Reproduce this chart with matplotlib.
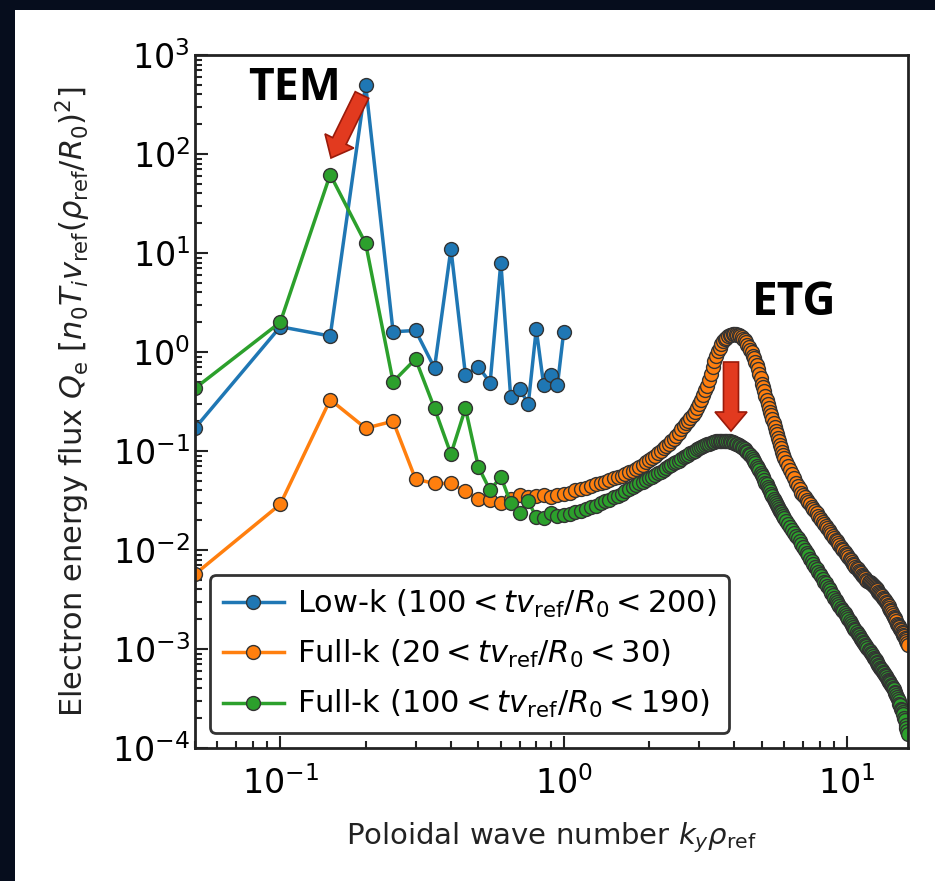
import numpy as np
import matplotlib.pyplot as plt
from matplotlib.patches import FancyArrow, Rectangle


# ---- low-k run (100 < t v_ref/R0 < 200) ----
ky_low = [0.05, 0.1, 0.15, 0.2, 0.25, 0.3, 0.35, 0.4, 0.45, 0.5,
          0.55, 0.6, 0.65, 0.7, 0.75, 0.8, 0.85, 0.9, 0.95, 1.0]
Q_low = [0.17, 1.8, 1.45, 500.0, 1.6, 1.65, 0.69, 11.0, 0.59, 0.71,
         0.49, 8.0, 0.35, 0.42, 0.30, 1.7, 0.46, 0.59, 0.46, 1.6]

# ---- full-k runs, both on the same ky grid ----
ky_full_a = [0.05, 0.1, 0.15, 0.2, 0.25, 0.3, 0.35, 0.4, 0.45, 0.5,
             0.55, 0.6, 0.65, 0.7, 0.75, 0.8, 0.85, 0.9, 0.95, 1.0]
ky_full_b = [1.05, 1.1, 1.15, 1.2, 1.25, 1.3, 1.35, 1.4, 1.45, 1.5,
             1.55, 1.6, 1.65, 1.7, 1.75, 1.8, 1.85, 1.9, 1.95, 2.0,
             2.05, 2.1, 2.15, 2.2, 2.25, 2.3, 2.35, 2.4, 2.45, 2.5,
             2.55, 2.6, 2.65, 2.7, 2.75, 2.8, 2.85, 2.9, 2.95, 3.0,
             3.05, 3.1, 3.15, 3.2, 3.25, 3.3, 3.35, 3.4, 3.45, 3.5,
             3.55, 3.6, 3.65, 3.7, 3.75, 3.8, 3.85, 3.9, 3.95, 4.0,
             4.05, 4.1, 4.15, 4.2, 4.25, 4.3, 4.35, 4.4, 4.45, 4.5,
             4.55, 4.6, 4.65, 4.7, 4.75, 4.8, 4.85, 4.9, 4.95, 5.0,
             5.05, 5.1, 5.15, 5.2, 5.25, 5.3, 5.35, 5.4, 5.45, 5.5,
             5.55, 5.6, 5.65, 5.7, 5.75, 5.8, 5.85, 5.9, 5.95, 6.0]
ky_full_c = [6.1, 6.2, 6.3, 6.4, 6.5, 6.6, 6.7, 6.8, 6.9, 7.0,
             7.1, 7.2, 7.3, 7.4, 7.5, 7.6, 7.7, 7.8, 7.9, 8.0,
             8.1, 8.2, 8.3, 8.4, 8.5, 8.6, 8.7, 8.8, 8.9, 9.0,
             9.1, 9.2, 9.3, 9.4, 9.5, 9.6, 9.7, 9.8, 9.9, 10.0,
             10.1, 10.2, 10.3, 10.4, 10.5, 10.6, 10.7, 10.8, 10.9, 11.0,
             11.1, 11.2, 11.3, 11.4, 11.5, 11.6, 11.7, 11.8, 11.9, 12.0,
             12.1, 12.2, 12.3, 12.4, 12.5, 12.6, 12.7, 12.8, 12.9, 13.0,
             13.1, 13.2, 13.3, 13.4, 13.5, 13.6, 13.7, 13.8, 13.9, 14.0,
             14.1, 14.2, 14.3, 14.4, 14.5, 14.6, 14.7, 14.8, 14.9, 15.0,
             15.1, 15.2, 15.3, 15.4, 15.5, 15.6, 15.7, 15.8, 15.9, 16.0,
             16.1, 16.2, 16.3, 16.4]
ky_full = ky_full_a + ky_full_b + ky_full_c

# full-k, 20 < t v_ref/R0 < 30
Q_early_a = [0.0057, 0.029, 0.33, 0.17, 0.20, 0.052, 0.047, 0.047, 0.039, 0.033,
             0.032, 0.030, 0.033, 0.036, 0.034, 0.035, 0.036, 0.034, 0.036, 0.037]
Q_early_b = [0.038, 0.040, 0.041, 0.042, 0.044, 0.046, 0.047, 0.049, 0.051, 0.053,
             0.054, 0.056, 0.058, 0.061, 0.063, 0.066, 0.069, 0.073, 0.077, 0.081,
             0.085, 0.090, 0.095, 0.100, 0.106, 0.112, 0.118, 0.125, 0.133, 0.142,
             0.153, 0.165, 0.177, 0.190, 0.202, 0.215, 0.232, 0.250, 0.273, 0.300,
             0.33, 0.37, 0.41, 0.45, 0.52, 0.60, 0.70, 0.82, 0.92, 1.02,
             1.11, 1.20, 1.28, 1.35, 1.40, 1.44, 1.47, 1.50, 1.51, 1.52,
             1.51, 1.50, 1.48, 1.45, 1.41, 1.36, 1.31, 1.25, 1.19, 1.12,
             1.05, 0.99, 0.92, 0.86, 0.80, 0.74, 0.67, 0.60, 0.54, 0.48,
             0.44, 0.40, 0.36, 0.33, 0.30, 0.27, 0.25, 0.23, 0.21, 0.19,
             0.175, 0.160, 0.147, 0.135, 0.125, 0.115, 0.106, 0.098, 0.091, 0.085]
Q_early_c = [0.077, 0.070, 0.064, 0.058, 0.053, 0.048, 0.044, 0.041, 0.038, 0.036,
             0.034, 0.032, 0.0305, 0.029, 0.0275, 0.026, 0.0247, 0.0235, 0.0222, 0.021,
             0.020, 0.019, 0.0182, 0.0175, 0.0167, 0.016, 0.0152, 0.0145, 0.0139, 0.0133,
             0.0127, 0.0122, 0.0117, 0.0112, 0.0107, 0.0103, 0.0099, 0.0095, 0.0091, 0.0088,
             0.0085, 0.0082, 0.0079, 0.0076, 0.0073, 0.0071, 0.0068, 0.0066, 0.0064, 0.0062,
             0.0060, 0.0058, 0.0056, 0.0055, 0.0053, 0.0052, 0.0050, 0.0049, 0.0048, 0.0047,
             0.0046, 0.0045, 0.0044, 0.0043, 0.0042, 0.0041, 0.0040, 0.0039, 0.0038, 0.0037,
             0.0036, 0.0035, 0.0034, 0.0033, 0.0032, 0.0031, 0.0030, 0.0029, 0.0028, 0.0027,
             0.0026, 0.0025, 0.0024, 0.0023, 0.0022, 0.0021, 0.00205, 0.0020, 0.0019, 0.0018,
             0.00175, 0.0017, 0.00165, 0.0016, 0.00155, 0.0015, 0.00145, 0.0014, 0.00135, 0.0013,
             0.00125, 0.0012, 0.00115, 0.0011]
Q_full_early = Q_early_a + Q_early_b + Q_early_c

# full-k, 100 < t v_ref/R0 < 190
Q_late_a = [0.43, 2.0, 62.0, 12.5, 0.50, 0.85, 0.27, 0.093, 0.27, 0.069,
            0.040, 0.055, 0.030, 0.0235, 0.031, 0.0215, 0.021, 0.0235, 0.022, 0.0225]
Q_late_b = [0.023, 0.024, 0.025, 0.026, 0.027, 0.028, 0.0295, 0.031, 0.032, 0.034,
            0.035, 0.037, 0.039, 0.041, 0.043, 0.045, 0.047, 0.049, 0.051, 0.053,
            0.055, 0.057, 0.060, 0.062, 0.065, 0.067, 0.070, 0.072, 0.075, 0.077,
            0.080, 0.083, 0.086, 0.089, 0.092, 0.095, 0.098, 0.101, 0.104, 0.107,
            0.110, 0.112, 0.115, 0.117, 0.119, 0.121, 0.123, 0.124, 0.125, 0.126,
            0.127, 0.127, 0.127, 0.127, 0.127, 0.126, 0.125, 0.124, 0.123, 0.121,
            0.119, 0.117, 0.115, 0.112, 0.110, 0.107, 0.104, 0.101, 0.098, 0.094,
            0.091, 0.087, 0.083, 0.079, 0.075, 0.071, 0.068, 0.064, 0.060, 0.057,
            0.054, 0.051, 0.048, 0.046, 0.043, 0.041, 0.039, 0.037, 0.035, 0.033,
            0.0315, 0.030, 0.0285, 0.027, 0.026, 0.025, 0.024, 0.023, 0.022, 0.021]
Q_late_c = [0.0196, 0.0183, 0.0171, 0.0160, 0.0150, 0.0140, 0.0131, 0.0122, 0.0114, 0.0107,
            0.0100, 0.0094, 0.0088, 0.0082, 0.0077, 0.0072, 0.0068, 0.0064, 0.0060, 0.0057,
            0.0054, 0.0051, 0.0048, 0.0046, 0.0043, 0.0041, 0.0039, 0.0037, 0.0035, 0.0033,
            0.00315, 0.0030, 0.00285, 0.0027, 0.0026, 0.0025, 0.0024, 0.0023, 0.0022, 0.0021,
            0.0020, 0.0019, 0.00182, 0.00175, 0.00167, 0.0016, 0.00154, 0.00148, 0.00142, 0.00137,
            0.00132, 0.00127, 0.00122, 0.00118, 0.00114, 0.0011, 0.00106, 0.00102, 0.00098, 0.00095,
            0.00091, 0.00088, 0.00085, 0.00082, 0.00079, 0.00077, 0.00074, 0.00072, 0.00069, 0.00067,
            0.00065, 0.00063, 0.00061, 0.00059, 0.00057, 0.00055, 0.00053, 0.00051, 0.00049, 0.00048,
            0.00046, 0.00045, 0.00043, 0.00042, 0.0004, 0.00039, 0.00037, 0.00036, 0.00034, 0.00033,
            0.00031, 0.0003, 0.00028, 0.00027, 0.00025, 0.00024, 0.00023, 0.00022, 0.0002, 0.00019,
            0.00017, 0.00016, 0.00015, 0.00014]
Q_full_late = Q_late_a + Q_late_b + Q_late_c

labels = [r'Low-k ($100 < tv_\mathrm{ref}/R_0 < 200$)',
          r'Full-k ($20 < tv_\mathrm{ref}/R_0 < 30$)',
          r'Full-k ($100 < tv_\mathrm{ref}/R_0 < 190$)']


W, H = 935, 881
fig = plt.figure(figsize=(W / 100, H / 100), dpi=100, facecolor='#060d1d')
# white panel inside the dark frame
fig.add_artist(Rectangle((0.15, 0), (W - 15) / 100, (H - 10) / 100, facecolor='white',
                         edgecolor='none', transform=fig.dpi_scale_trans, zorder=-5))

ax = fig.add_axes([195 / W, (H - 748) / H, (908 - 195) / W, (748 - 55) / H])

mstyle = dict(marker='o', markersize=10, markeredgecolor='#333333',
              markeredgewidth=1.0, linewidth=2.5)
ax.plot(ky_low, Q_low, color='tab:blue', label=labels[0], **mstyle)
ax.plot(ky_full, Q_full_early, color='tab:orange', label=labels[1], **mstyle)
ax.plot(ky_full, Q_full_late, color='tab:green', label=labels[2], **mstyle)

ax.set_xscale('log')
ax.set_yscale('log')
ax.set_xlim(0.05, 16.4)
ax.set_ylim(1e-4, 1e3)

ax.tick_params(which='both', direction='in', labelsize=24, color='#222222', width=1.5)
ax.tick_params(which='major', length=9)
ax.tick_params(which='minor', length=5)
ax.tick_params(axis='x', pad=13)
for sp in ax.spines.values():
    sp.set_linewidth(2)
    sp.set_color('#222222')

ax.set_xlabel(r'Poloidal wave number $k_y\rho_\mathrm{ref}$', fontsize=21, color='#222222', labelpad=14)
ax.set_ylabel(r'Electron energy flux $Q_\mathrm{e}$ $[n_0T_iv_\mathrm{ref}(\rho_\mathrm{ref}/R_0)^2]$',
              fontsize=22, color='#222222', labelpad=14)

leg = ax.legend(loc='lower left', fontsize=22, framealpha=1, edgecolor='#333333', fancybox=True,
                handletextpad=0.45, labelspacing=0.6)
leg.get_frame().set_linewidth(2)

# annotations
fig.text(248 / W, (H - 100) / H, 'TEM', fontsize=32, fontweight='bold', family='Open Sans')
fig.text(752 / W, (H - 315) / H, 'ETG', fontsize=33, fontweight='bold', family='Open Sans')


def red_arrow(x0, y0, x1, y1):
    # pixel coords (from top-left) -> inches
    xa, ya = x0 / 100, (H - y0) / 100
    xb, yb = x1 / 100, (H - y1) / 100
    arr = FancyArrow(xa, ya, xb - xa, yb - ya, width=0.15, head_width=0.32, head_length=0.19,
                     length_includes_head=True, facecolor='#e23a1f', edgecolor='#9a1a0a',
                     linewidth=1.2, transform=fig.dpi_scale_trans, zorder=10)
    fig.add_artist(arr)


red_arrow(362, 95, 331, 158)
red_arrow(731, 362, 731, 431)

plt.savefig('out.png', dpi=100, facecolor=fig.get_facecolor())
plt.close()
